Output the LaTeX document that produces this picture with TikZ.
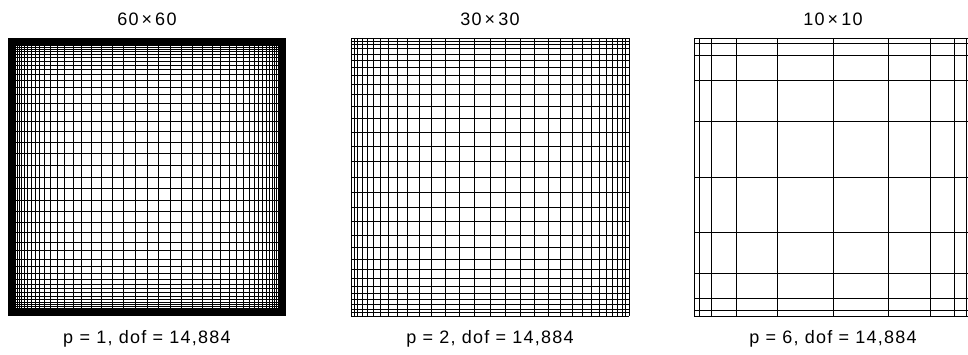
\documentclass[tikz,border=0pt]{standalone}
\usepackage{fontspec}
\setmainfont{Liberation Sans}
\newfontfamily\lblfont{Liberation Sans}[LetterSpace=7]
\newcommand\drawmesh[3]{% #1 = left x, #2 = number of elements, #3 = stretching
  \foreach \k in {0,...,#2} {
    \pgfmathsetmacro\f{278*0.5*(1-tanh(#3*(0.5-\k/#2))/tanh(#3/2))}
    \draw[meshline] (#1+\f,38) -- (#1+\f,316);
    \draw[meshline] (#1,38+\f) -- (#1+278,38+\f);
  }}
\begin{document}
\begin{tikzpicture}[x=1pt,y=-1pt,
  meshline/.style={line width=1pt, black},
  lbl/.style={font=\lblfont\fontsize{18}{20}\selectfont, inner sep=0pt, anchor=base}]
\useasboundingbox (0,0) rectangle (968,354);
\clip (0,0) rectangle (968,354);
\drawmesh{8}{60}{5.0}
\drawmesh{351}{30}{3.0}
\drawmesh{694}{10}{4.1}
\node[lbl] (t1) at (147,25.5) {60\,×\,60};
\node[lbl] (t2) at (490,25.5) {30\,×\,30};
\node[lbl] (t3) at (833,25.5) {10\,×\,10};
\node[lbl] (b1) at (147,343) {p = 1, dof = 14,884};
\node[lbl] (b2) at (490,343) {p = 2, dof = 14,884};
\node[lbl] (b3) at (833,343) {p = 6, dof = 14,884};
\end{tikzpicture}
\end{document}
